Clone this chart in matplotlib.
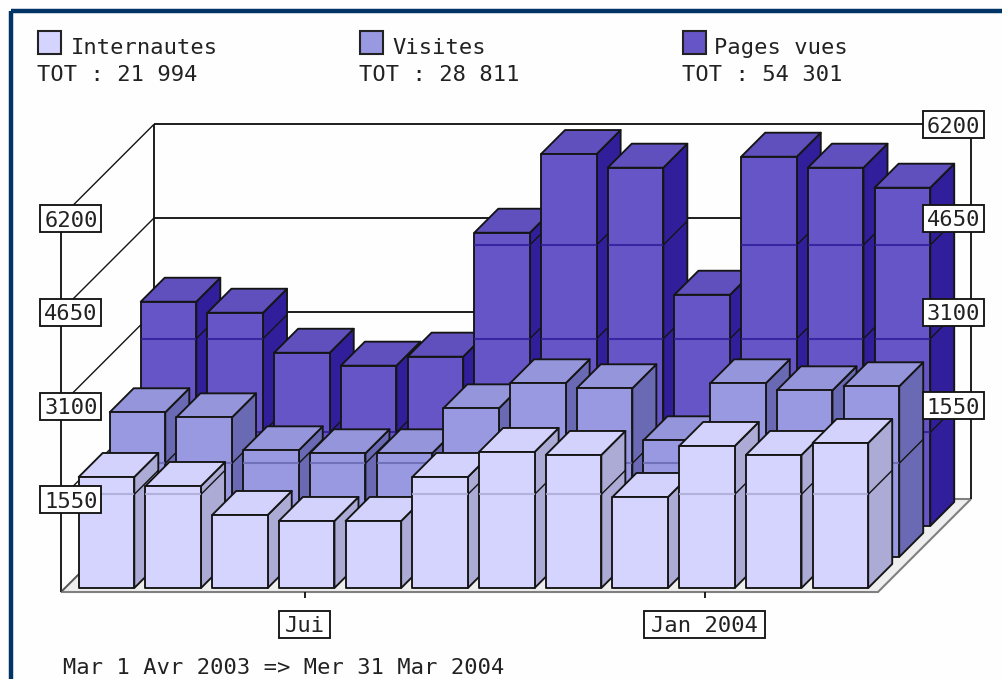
import matplotlib
matplotlib.use("Agg")
import matplotlib.pyplot as plt
from matplotlib.patches import Polygon, Rectangle

# ---- data ----
months = ["Avr", "Mai", "Juin", "Jui", "Aou", "Sep", "Oct", "Nov", "Dec", "Jan", "Fev", "Mar"]
internautes = [1837, 1688, 1208, 1109, 1109, 1837, 2251, 2201, 1506, 2350, 2201, 2400]
visites = [2395, 2311, 1765, 1716, 1716, 2460, 2874, 2792, 1931, 2874, 2758, 2825]
pages_vues = [3711, 3529, 2867, 2653, 2802, 4853, 6155, 5929, 3827, 6111, 5929, 5598]
series_names = ["Internautes", "Visites", "Pages vues"]
series_totals = ["TOT : 21 994", "TOT : 28 811", "TOT : 54 301"]
y_ticks = [1550, 3100, 4650, 6200]
x_tick_months = [3, 9]
x_tick_labels = ["Jui", "Jan 2004"]
period = "Mar 1 Avr 2003 => Mer 31 Mar 2004"

# ---- styles / layout ----
FRONT = ["#D4D4FF", "#9999E2", "#6655C6"]
SIDE = ["#ABABD6", "#6A6AB4", "#301E9B"]
TOP = ["#D2D2FC", "#9595DC", "#5F50BE"]
LINE = "#151515"
FONT = "DejaVu Sans Mono"
FS = 15.9
LW = 1.35

X0, Y0 = 61.0, 592.0      # front-left floor corner
FLOOR_W = 817.0
DEPTH = 93.0              # oblique offset of the whole floor
PX_PER_UNIT = 93.67 / 1550
STEP = 66.72
BAR_W = 55.6
BAR_D = 24.0
BAR_X0 = 17.7
BAR_Y0 = 4.0

fig = plt.figure(figsize=(10.03, 6.79), dpi=100, facecolor="#FEFEFE")
ax = fig.add_axes([0, 0, 1, 1])
ax.set_xlim(0, 1003)
ax.set_ylim(679, 0)
ax.axis("off")

z = [1]
def nz():
    z[0] += 1
    return z[0]

def proj(x, depth, value):
    """x in px along the floor, depth in px into the chart, value in data units."""
    return X0 + x + depth, Y0 - depth - value * PX_PER_UNIT

def line(p, q, color=LINE, lw=LW, alpha=1.0, zorder=None):
    ax.plot([p[0], q[0]], [p[1], q[1]], color=color, lw=lw, alpha=alpha,
            solid_capstyle="butt", zorder=zorder if zorder else nz())

def label_box(cx, cy, text, w):
    ax.add_patch(Rectangle((cx - w / 2, cy - 13.5), w, 27, fc="white", ec=LINE, lw=LW, zorder=500))
    ax.text(cx, cy, text, family=FONT, fontsize=FS, color="#222222", ha="center",
            va="center_baseline", zorder=501)

# frame
ax.plot([11, 11], [679, 11], color="#003366", lw=3.2, solid_capstyle="butt", zorder=1)
ax.plot([11, 1003], [11, 11], color="#003366", lw=3.2, solid_capstyle="butt", zorder=1)

# floor
ax.add_patch(Polygon([proj(0, 0, 0), proj(FLOOR_W, 0, 0), proj(FLOOR_W, DEPTH, 0), proj(0, DEPTH, 0)],
                     closed=True, fc="#EEEEEE", ec="#808080", lw=1.5, zorder=nz()))

# walls and grid
vmax = y_ticks[-1]
line(proj(0, 0, 0), proj(0, 0, vmax))
line(proj(0, DEPTH, 0), proj(0, DEPTH, vmax))
line(proj(FLOOR_W, DEPTH, 0), proj(FLOOR_W, DEPTH, vmax))
for v in y_ticks:
    line(proj(0, 0, v), proj(0, DEPTH, v), lw=1.0)
    line(proj(0, DEPTH, v), proj(FLOOR_W, DEPTH, v))
line(proj(0, 0, 0), proj(0, DEPTH, 0), color="#555555", lw=1.0)

# bars, back series first
series = [internautes, visites, pages_vues]
for s in (2, 1, 0):
    values = series[s]
    d0 = BAR_Y0 + s * DEPTH / 3
    for i, v in enumerate(values):
        xl = BAR_X0 + i * STEP + s * DEPTH / 3
        xr = xl + BAR_W
        tl = proj(xl, 0, v); tr = proj(xr, 0, v); br = proj(xr, 0, 0); bl = proj(xl, 0, 0)
        tl, tr, br, bl = [(px, py - d0) for px, py in (tl, tr, br, bl)]
        dx = BAR_D
        ax.add_patch(Polygon([tr, (tr[0] + dx, tr[1] - dx), (br[0] + dx, br[1] - dx), br], closed=True,
                             fc=SIDE[s], ec=LINE, lw=LW, joinstyle="round", zorder=nz()))
        ax.add_patch(Polygon([tl, tr, (tr[0] + dx, tr[1] - dx), (tl[0] + dx, tl[1] - dx)], closed=True,
                             fc=TOP[s], ec=LINE, lw=LW, joinstyle="round", zorder=nz()))
        ax.add_patch(Polygon([tl, tr, br, bl], closed=True, fc=FRONT[s], ec=LINE, lw=LW,
                             joinstyle="round", zorder=nz()))
        # value levels: dark diagonal on the side, tinted line on the front
        for t in y_ticks:
            if t < v:
                ly = br[1] - t * PX_PER_UNIT
                line((xr + X0, ly), (xr + X0 + dx, ly - dx), lw=1.0)
                line((xl + X0, ly), (xr + X0, ly), color=SIDE[s], lw=1.5, alpha=0.85)

# axis labels
for v in y_ticks:
    p = proj(0, 0, v)
    label_box(p[0] + 10, p[1] + 1.5, f"{v}", 61)
    q = proj(FLOOR_W, DEPTH, v)
    label_box(q[0] - 17.5, q[1] + 0.5, f"{v}", 61)

for m, lab in zip(x_tick_months, x_tick_labels):
    cx = X0 + BAR_X0 + m * STEP + BAR_W / 2 - 1.5
    line((cx, Y0), (cx, Y0 + 6), zorder=400)
    label_box(cx - 0.5, 624.5, lab, len(lab) * 14 + 9)

# legend
for (xs, xt), name, tot, col in zip([(38, 71), (360, 392), (683, 714)], series_names, series_totals, FRONT):
    ax.add_patch(Rectangle((xs, 31), 23, 23, fc=col, ec="#222222", lw=1.5, zorder=400))
    ax.text(xt, 46, name, family=FONT, fontsize=FS, color="#222222", va="center_baseline", zorder=400)
    ax.text(xs - 1, 73, tot, family=FONT, fontsize=FS, color="#222222", va="center_baseline", zorder=400)

ax.text(63, 666, period, family=FONT, fontsize=FS, color="#222222", va="center_baseline", zorder=400)

fig.savefig("out.png", dpi=100, facecolor=fig.get_facecolor())
